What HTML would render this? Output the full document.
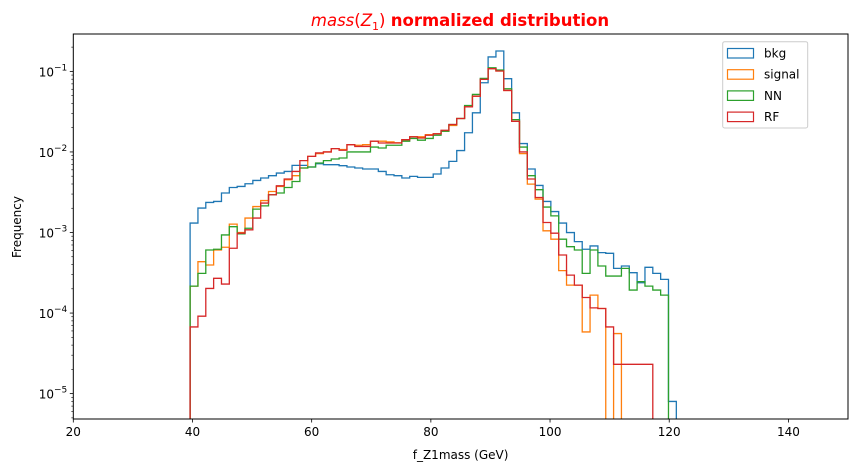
<!DOCTYPE html>
<html><head><meta charset="utf-8"><style>
body{margin:0;background:#fff;}
svg{display:block;font-family:"DejaVu Sans","Liberation Sans",sans-serif;}
</style></head><body>
<svg id="chart" width="857" height="472" viewBox="0 0 857 472" xmlns="http://www.w3.org/2000/svg">
<defs><clipPath id="plotclip"><rect x="73.3" y="34" width="774.7" height="385"/></clipPath></defs>
<text x="460" y="26" text-anchor="middle" font-size="16.5" fill="#ff0000"><tspan font-style="italic">mass</tspan>(<tspan font-style="italic">Z</tspan><tspan font-size="11" dy="4">1</tspan><tspan dy="-4">)</tspan> <tspan font-weight="bold">normalized distribution</tspan></text>
<g id="series" clip-path="url(#plotclip)"></g>
<g id="axes"></g>
<text x="460.6" y="459" text-anchor="middle" font-size="12">f_Z1mass (GeV)</text>
<text transform="translate(21,227) rotate(-90)" text-anchor="middle" font-size="12">Frequency</text>
<g>
<rect x="722.7" y="41.7" width="85" height="86.3" rx="2" fill="#fff" fill-opacity="0.8" stroke="#cccccc"/>
<g id="legend-items"></g>
</g>
</svg>
<script>
const seriesNames = ["bkg","signal","NN","RF"];
const seriesColors = ["#1f77b4","#ff7f0e","#2ca02c","#d62728"];
const binStart = 39.6;
const binWidth = 1.316;
const bkg = [1.31e-3,2.01e-3,2.36e-3,2.43e-3,3.09e-3,3.62e-3,3.73e-3,4.03e-3,4.43e-3,4.75e-3,5.07e-3,5.47e-3,5.73e-3,6.81e-3,6.81e-3,6.50e-3,7.15e-3,6.95e-3,6.95e-3,6.75e-3,6.50e-3,6.32e-3,6.14e-3,6.14e-3,5.73e-3,5.21e-3,5.07e-3,4.75e-3,4.97e-3,4.83e-3,4.83e-3,5.32e-3,6.32e-3,7.64e-3,1.04e-2,1.73e-2,3.06e-2,7.23e-2,1.51e-1,1.79e-1,8.11e-2,3.06e-2,1.27e-2,6.14e-3,3.84e-3,2.43e-3,1.82e-3,1.31e-3,9.98e-4,7.70e-4,6.19e-4,6.81e-4,5.62e-4,5.52e-4,3.59e-4,3.84e-4,3.17e-4,2.38e-4,3.70e-4,3.11e-4,2.62e-4,8.0e-6];
const signal = [2.16e-4,4.34e-4,3.95e-4,6.07e-4,6.56e-4,1.27e-3,9.98e-4,1.51e-3,2.10e-3,2.49e-3,3.23e-3,3.73e-3,4.52e-3,5.07e-3,6.32e-3,8.81e-3,9.52e-3,1.00e-2,1.10e-2,1.07e-2,1.23e-2,1.21e-2,1.23e-2,1.36e-2,1.36e-2,1.33e-2,1.30e-2,1.42e-2,1.54e-2,1.54e-2,1.64e-2,1.68e-2,1.81e-2,2.13e-2,2.60e-2,3.63e-2,4.92e-2,7.95e-2,1.08e-1,1.01e-1,5.80e-2,2.40e-2,9.52e-3,3.99e-3,2.60e-3,1.05e-3,8.26e-4,3.36e-4,2.22e-4,2.22e-4,5.83e-5,1.67e-4,1.14e-4,0,5.57e-5,0,0,0,0,0,0,0];
const nn = [2.16e-4,3.11e-4,6.07e-4,6.19e-4,9.33e-4,1.18e-3,9.61e-4,1.13e-3,1.95e-3,2.14e-3,2.94e-3,3.09e-3,3.62e-3,4.30e-3,6.32e-3,6.50e-3,7.29e-3,7.80e-3,8.18e-3,8.41e-3,1.00e-2,1.00e-2,1.00e-2,1.15e-2,1.12e-2,1.21e-2,1.21e-2,1.36e-2,1.47e-2,1.40e-2,1.47e-2,1.61e-2,1.81e-2,2.19e-2,2.60e-2,3.77e-2,5.17e-2,8.18e-2,1.11e-1,1.04e-1,6.09e-2,2.52e-2,1.15e-2,5.07e-3,3.40e-3,2.07e-3,1.61e-3,8.26e-4,6.67e-4,6.07e-4,3.11e-4,6.07e-4,3.84e-4,2.88e-4,2.88e-4,3.59e-4,1.93e-4,2.45e-4,2.16e-4,1.93e-4,1.67e-4,0];
const rf = [6.73e-5,9.14e-5,2.02e-4,2.70e-4,2.29e-4,6.37e-4,9.80e-4,1.08e-3,1.51e-3,2.32e-3,2.94e-3,3.80e-3,4.61e-3,5.73e-3,7.80e-3,8.81e-3,9.72e-3,1.00e-2,1.10e-2,1.05e-2,1.23e-2,1.17e-2,1.17e-2,1.36e-2,1.29e-2,1.29e-2,1.29e-2,1.42e-2,1.54e-2,1.49e-2,1.61e-2,1.68e-2,1.86e-2,2.19e-2,2.60e-2,3.63e-2,4.92e-2,7.95e-2,1.08e-1,1.01e-1,5.80e-2,2.40e-2,1.00e-2,4.61e-3,2.72e-3,1.33e-3,9.80e-4,5.26e-4,2.96e-4,2.22e-4,1.56e-4,1.16e-4,1.14e-4,6.73e-5,2.31e-5,2.31e-5,2.31e-5,2.31e-5,2.31e-5,0,0,0];
const xTicks = [20,40,60,80,100,120,140];
const yTickExps = [-1,-2,-3,-4,-5];

const NS = "http://www.w3.org/2000/svg";
const L = 73.3, R = 848, T = 34, B = 419;
const xMin = 20, xMax = 150;
const logTop = -0.536, logBot = -5.315;
function xs(v){ return L + (v - xMin) / (xMax - xMin) * (R - L); }
function ys(v){ if (!(v > 0)) return B + 20; return T + (logTop - Math.log10(v)) / (logTop - logBot) * (B - T); }
function mk(tag, attrs, parent){ const e = document.createElementNS(NS, tag); for (const k in attrs) e.setAttribute(k, attrs[k]); parent.appendChild(e); return e; }

const seriesG = document.getElementById("series");
const allData = [bkg, signal, nn, rf];
allData.forEach(function(vals, si){
  let d = "M" + xs(binStart).toFixed(2) + "," + (B + 20);
  vals.forEach(function(v, i){
    const x0 = xs(binStart + i * binWidth), x1 = xs(binStart + (i + 1) * binWidth);
    const y = ys(v).toFixed(2);
    d += " L" + x0.toFixed(2) + "," + y + " L" + x1.toFixed(2) + "," + y;
  });
  d += " L" + xs(binStart + vals.length * binWidth).toFixed(2) + "," + (B + 20);
  const p = mk("path", {d: d, fill: "none", stroke: seriesColors[si], "stroke-width": 1.3, "stroke-linejoin": "miter"}, seriesG);
  
  
});

const axes = document.getElementById("axes");
const frame = mk("rect", {x: L, y: T, width: R - L, height: B - T, fill: "none", stroke: "#000", "stroke-width": 1}, axes);


xTicks.forEach(function(t){
  const x = xs(t);
  const tk = mk("line", {x1: x, x2: x, y1: B, y2: B + 3.5, stroke: "#000", "stroke-width": 0.8}, axes);
  
  
  const tl = mk("text", {x: x, y: B + 17, "text-anchor": "middle", "font-size": 12}, axes);
  tl.textContent = String(t);
  
  
});
yTickExps.forEach(function(e){
  const y = ys(Math.pow(10, e));
  const tk = mk("line", {x1: L - 3.5, x2: L, y1: y, y2: y, stroke: "#000", "stroke-width": 0.8}, axes);
  
  
  const tl = mk("text", {x: L - 6, y: y + 5, "text-anchor": "end", "font-size": 12}, axes);
  
  
  const a = mk("tspan", {}, tl); a.textContent = "10";
  const b = mk("tspan", {dy: -6, "font-size": 9}, tl); b.textContent = "\u2212" + Math.abs(e);
});
for (let e = -6; e <= 0; e++){
  for (let m = 2; m <= 9; m++){
    const v = m * Math.pow(10, e);
    const y = ys(v);
    if (y < T || y > B) continue;
    const tk = mk("line", {x1: L - 2, x2: L, y1: y, y2: y, stroke: "#000", "stroke-width": 0.6}, axes);
    
    
  }
}

const lg = document.getElementById("legend-items");
seriesNames.forEach(function(n, i){
  const y = 53 + i * 21.2;
  const g = mk("g", {}, lg);
  
  
  mk("rect", {x: 727.5, y: y - 4.5, width: 26, height: 9.5, fill: "none", stroke: seriesColors[i], "stroke-width": 1.2}, g);
  const t = mk("text", {x: 764, y: y + 4.5, "font-size": 12}, g);
  t.textContent = n;
});
</script>
</body></html>
